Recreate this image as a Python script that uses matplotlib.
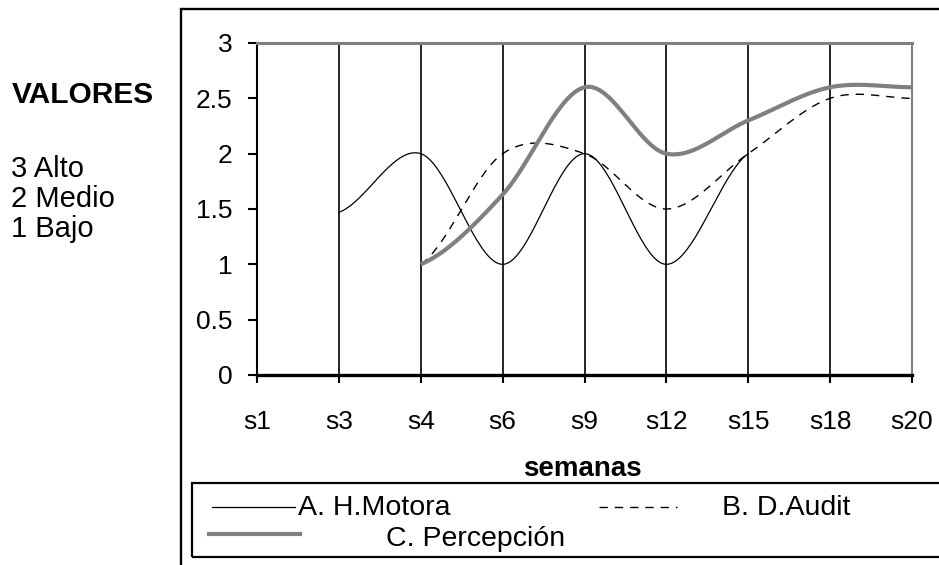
"""
Excel style smoothed line chart: VALORES per semana, three series.
"""

import matplotlib
matplotlib.use("Agg")
import matplotlib.pyplot as plt
import numpy as np
from matplotlib.lines import Line2D
from matplotlib.patches import Rectangle


W, H = 939, 565

# data
semanas = ["s1", "s3", "s4", "s6", "s9", "s12", "s15", "s18", "s20"]
motora = [np.nan, 1.47, 2.0, 1.0, 2.0, 1.0, 2.0, np.nan, np.nan]
audit = [np.nan, np.nan, 1.0, 2.0, 2.0, 1.5, 2.0, 2.5, 2.5]
percepcion = [np.nan, np.nan, 1.0, 1.63, 2.6, 2.0, 2.3, 2.6, 2.6]
y_ticks = [0, 0.5, 1, 1.5, 2, 2.5, 3]
y_labels = ["0", "0.5", "1", "1.5", "2", "2.5", "3"]
series_names = ["A. H.Motora", "B. D.Audit", "C. Percepción"]
escala = ["3 Alto", "2 Medio", "1 Bajo"]

plt.rcParams["font.family"] = ["Liberation Sans", "DejaVu Sans"]


def fx(px):
    return px / W


def fy(py):
    return 1 - py / H


def smooth(values, n=40):
    """
    catmull-rom through the valid points, like excel's smoothed line
    """
    v = np.asarray(values, dtype=float)
    idx = np.where(~np.isnan(v))[0]
    x, y = idx.astype(float), v[idx]
    # tangents, the end points count as duplicated
    m = np.zeros_like(y)
    for i in range(len(y)):
        lo, hi = max(i - 1, 0), min(i + 1, len(y) - 1)
        m[i] = (y[hi] - y[lo]) / 2.0
    xs, ys = [], []
    for i in range(len(y) - 1):
        t = np.linspace(0, 1, n)
        h00 = 2 * t**3 - 3 * t**2 + 1
        h10 = t**3 - 2 * t**2 + t
        h01 = -2 * t**3 + 3 * t**2
        h11 = t**3 - t**2
        xs.append(x[i] + t * (x[i + 1] - x[i]))
        ys.append(h00 * y[i] + h10 * m[i] + h01 * y[i + 1] + h11 * m[i + 1])
    return np.concatenate(xs), np.concatenate(ys)


fig = plt.figure(figsize=(W / 100, H / 100), dpi=100)
ax = fig.add_axes([fx(257), fy(375), fx(912) - fx(257), fy(43) - fy(375)])

pos = np.arange(len(semanas))
for p in pos[1:-1]:
    ax.axvline(p, color="black", lw=1.2, zorder=1)

xa, ya = smooth(motora)
ax.plot(xa, ya, color="black", lw=0.9, zorder=3, solid_capstyle="butt")
xb, yb = smooth(audit)
ax.plot(xb, yb, color="black", lw=1.0, dashes=(6, 5), zorder=3)
xc, yc = smooth(percepcion)
ax.plot(xc, yc, color="#808080", lw=3.0, zorder=4, solid_capstyle="butt")

ax.set_xlim(pos[0], pos[-1])
ax.set_ylim(0, 3)
ax.set_xticks(pos)
ax.set_xticklabels(semanas)
ax.set_yticks(y_ticks)
ax.set_yticklabels(y_labels)
ax.tick_params(axis="y", direction="out", length=6.5, width=1.5, pad=11,
               labelsize=19)
ax.tick_params(axis="x", direction="out", length=6, width=1.5, pad=19,
               labelsize=19)

ax.spines["left"].set_linewidth(1.5)
ax.spines["bottom"].set_linewidth(2.4)
ax.spines["top"].set_color("#808080")
ax.spines["top"].set_linewidth(2.2)
ax.spines["right"].set_color("#808080")
ax.spines["right"].set_linewidth(1.5)
for s in ax.spines.values():
    s.set_zorder(5)

fig.text(fx(582), fy(469), "semanas", ha="center", va="center",
         fontsize=20, fontweight="bold")

# chart frame, cut by the right and bottom edges of the picture
fig.patches.append(Rectangle((fx(181), -0.1), 1, fy(9) + 0.1,
                             transform=fig.transFigure, fill=False,
                             lw=1.7, ec="black"))

# legend box, drawn by hand to keep excel's odd layout
fig.patches.append(Rectangle((fx(192), fy(557)), 1, fy(483) - fy(557),
                             transform=fig.transFigure, fill=False,
                             lw=1.6, ec="black"))
fig.lines.append(Line2D([fx(212), fx(295)], [fy(507), fy(507)],
                        transform=fig.transFigure, color="black", lw=0.9))
fig.lines.append(Line2D([fx(599), fx(677)], [fy(507), fy(507)],
                        transform=fig.transFigure, color="black", lw=1.0,
                        dashes=(6, 5)))
fig.lines.append(Line2D([fx(209), fx(300)], [fy(534), fy(534)],
                        transform=fig.transFigure, color="#808080", lw=3.0))
fig.text(fx(298), fy(515), series_names[0], ha="left", va="baseline",
         fontsize=20.5)
fig.text(fx(722), fy(515), series_names[1], ha="left", va="baseline",
         fontsize=20.5)
fig.text(fx(386), fy(546), series_names[2], ha="left", va="baseline",
         fontsize=20.5)

# value scale on the left
fig.text(fx(12), fy(103), "VALORES", ha="left", va="baseline",
         fontsize=21.5, fontweight="bold")
for i, txt in enumerate(escala):
    fig.text(fx(11), fy(177 + 30 * i), txt, ha="left", va="baseline",
             fontsize=21)

fig.savefig("out.png", dpi=100)
